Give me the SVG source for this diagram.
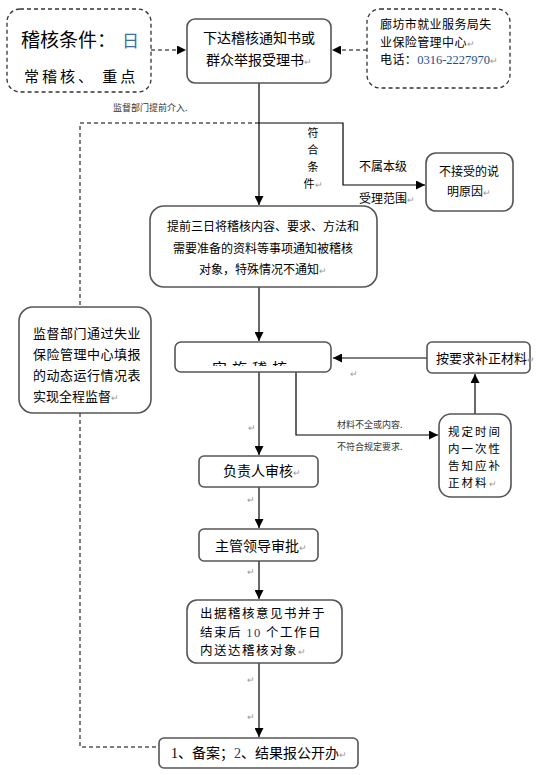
<svg xmlns="http://www.w3.org/2000/svg" width="538" height="775" viewBox="0 0 538 775">
<defs>
<style>
text{font-family:"Noto Sans CJK SC","Liberation Sans",sans-serif;fill:#000}
.box{fill:#fff;stroke:#555;stroke-width:1.6}
.dbox{fill:#fff;stroke:#333;stroke-width:1.3;stroke-dasharray:4 3}
.ln{fill:none;stroke:#000;stroke-width:1.2}
.dl{fill:none;stroke:#000;stroke-width:1;stroke-dasharray:4 3}
.t13{font-size:13px}
.t12{font-size:12px}
.t14{font-size:14px}
.v{font-size:11px}
.sm{font-size:9px;fill:#333}
.rt{font-size:9px;fill:#999}
.num{font-family:"Liberation Serif",serif}
.op{font-size:12.5px;letter-spacing:1.5px}
.nt{font-size:11.5px;letter-spacing:2px}
.bu{font-size:12px;letter-spacing:0.4px}
</style>
<marker id="ah" viewBox="0 0 10 10" refX="10" refY="5" markerWidth="9" markerHeight="9" markerUnits="userSpaceOnUse" orient="auto"><path d="M0,0 L10,5 L0,10 z" fill="#000"/></marker>
<clipPath id="cp"><rect x="176" y="343" width="154" height="23"/></clipPath>
</defs>

<g id="connectors">
<line class="dl" x1="151" y1="50" x2="186" y2="50" marker-end="url(#ah)"/>
<line class="dl" x1="367" y1="50" x2="332" y2="50" marker-end="url(#ah)"/>
<line class="ln" x1="259" y1="83" x2="259" y2="205" marker-end="url(#ah)"/>
<polyline class="dl" points="259,123 80,123 80,307"/>
<polyline class="dl" points="80,413 80,747 159,747"/>
<polyline class="ln" points="259,123 343,123 343,185 425,185" marker-end="url(#ah)"/>
<line class="ln" x1="259" y1="287" x2="259" y2="341" marker-end="url(#ah)"/>
<line class="ln" x1="427" y1="358" x2="333" y2="358" marker-end="url(#ah)"/>
<line class="ln" x1="475" y1="414" x2="475" y2="374" marker-end="url(#ah)"/>
<polyline class="ln" points="296,372 296,435 438,435" marker-end="url(#ah)"/>
<line class="ln" x1="259" y1="372" x2="259" y2="455" marker-end="url(#ah)"/>
<line class="ln" x1="259" y1="487" x2="259" y2="528" marker-end="url(#ah)"/>
<line class="ln" x1="259" y1="561" x2="259" y2="599" marker-end="url(#ah)"/>
<line class="ln" x1="259" y1="663" x2="259" y2="737" marker-end="url(#ah)"/>
<text class="sm" x="113" y="111">监督部门提前介入.</text>
<text class="v" x="313" y="137" text-anchor="middle">符</text>
<text class="v" x="313" y="154" text-anchor="middle">合</text>
<text class="v" x="313" y="171" text-anchor="middle">条</text>
<text class="v" x="313" y="188" text-anchor="middle">件<tspan class="rt">↵</tspan></text>
<text class="t12" x="359" y="171">不属本级</text>
<text class="t12" x="359" y="203">受理范围<tspan class="rt">↵</tspan></text>
<text class="sm" x="337" y="428">材料不全或内容.</text>
<text class="sm" x="337" y="450">不符合规定要求.</text>
<text class="rt" x="350" y="377">↵</text>
<text class="rt" x="248" y="431">↵</text>
<text class="rt" x="247" y="503">↵</text>
<text class="rt" x="247" y="575">↵</text>
<text class="rt" x="247" y="683">↵</text>
<text class="rt" x="247" y="720">↵</text>
</g>

<g id="n-conditions">
<rect class="dbox" x="7" y="9" width="144" height="83" rx="13"/>
<text x="21" y="47" style="font-size:19px">稽核条件：<tspan fill="#3a6ea5" dx="6" style="font-size:17px">日</tspan></text>
<text x="24" y="82" style="font-size:15px;letter-spacing:3px">常稽核、 重点</text>
</g>

<g id="n-notice">
<rect class="box" x="187" y="19" width="144" height="64" rx="8"/>
<text class="t14" x="259" y="43" text-anchor="middle">下达稽核通知书或</text>
<text class="t14" x="259" y="65" text-anchor="middle">群众举报受理书<tspan class="rt">↵</tspan></text>
</g>

<g id="n-bureau">
<rect class="dbox" x="367" y="9" width="143" height="79" rx="13"/>
<text class="bu" x="380" y="29">廊坊市就业服务局失</text>
<text class="bu" x="380" y="46.5">业保险管理中心<tspan class="rt">↵</tspan></text>
<text class="bu" x="380" y="64">电话：<tspan class="num" fill="#1f4e8c" style="font-size:12.5px;letter-spacing:0">0316-2227970</tspan><tspan class="rt">↵</tspan></text>
</g>

<g id="n-reject">
<rect class="box" x="426" y="153" width="87" height="58" rx="10"/>
<text class="t12" x="469" y="176" text-anchor="middle">不接受的说</text>
<text class="t12" x="469" y="196" text-anchor="middle">明原因<tspan class="rt">↵</tspan></text>
</g>

<g id="n-inform">
<rect class="box" x="150" y="206" width="227" height="81" rx="14"/>
<text class="t12" x="263" y="231" text-anchor="middle">提前三日将稽核内容、要求、方法和</text>
<text class="t12" x="263" y="253" text-anchor="middle">需要准备的资料等事项通知被稽核</text>
<text class="t12" x="263" y="274" text-anchor="middle">对象，特殊情况不通知<tspan class="rt">↵</tspan></text>
</g>

<g id="n-supervise">
<rect class="box" x="19" y="307" width="132" height="106" rx="14"/>
<text class="t13" x="33" y="338" style="letter-spacing:0.5px">监督部门通过失业</text>
<text class="t13" x="33" y="359" style="letter-spacing:0.5px">保险管理中心填报</text>
<text class="t13" x="33" y="380" style="letter-spacing:0.5px">的动态运行情况表</text>
<text class="t13" x="33" y="401">实现全程监督<tspan class="rt">↵</tspan></text>
</g>

<g id="n-audit">
<rect class="box" x="175" y="342" width="156" height="30" rx="6"/>
<text clip-path="url(#cp)" x="252" y="374" text-anchor="middle" style="font-size:15px;letter-spacing:5px">实施稽核</text>
</g>

<g id="n-supplement">
<rect class="box" x="427" y="342" width="103" height="31" rx="5"/>
<text class="t13" x="436" y="363">按要求补正材料<tspan class="rt">↵</tspan></text>
</g>

<g id="n-notify">
<rect class="box" x="439" y="414" width="72" height="83" rx="12"/>
<text class="nt" x="448" y="436">规定时间</text>
<text class="nt" x="448" y="453">内一次性</text>
<text class="nt" x="448" y="470">告知应补</text>
<text class="nt" x="448" y="487">正材料<tspan class="rt">↵</tspan></text>
</g>

<g id="n-review">
<rect class="box" x="199" y="456" width="119" height="31" rx="5"/>
<text class="t14" x="223" y="476">负责人审核<tspan class="rt">↵</tspan></text>
</g>

<g id="n-approve">
<rect class="box" x="199" y="529" width="119" height="32" rx="5"/>
<text class="t14" x="215" y="551">主管领导审批<tspan class="rt">↵</tspan></text>
</g>

<g id="n-opinion">
<rect class="box" x="187" y="600" width="155" height="63" rx="10"/>
<text class="op" x="200" y="618">出据稽核意见书并于</text>
<text class="op" x="200" y="636.5">结束后 <tspan class="num" fill="#1f3a6e">10</tspan> 个工作日</text>
<text class="op" x="200" y="655">内送达稽核对象<tspan class="rt">↵</tspan></text>
</g>

<g id="n-file">
<rect class="box" x="159" y="738" width="199" height="30" rx="5"/>
<text class="t14" x="171" y="758"><tspan class="num">1</tspan>、备案；<tspan class="num" fill="#1f3a6e">2</tspan>、结果报公开办<tspan class="rt">↵</tspan></text>
</g>
</svg>
